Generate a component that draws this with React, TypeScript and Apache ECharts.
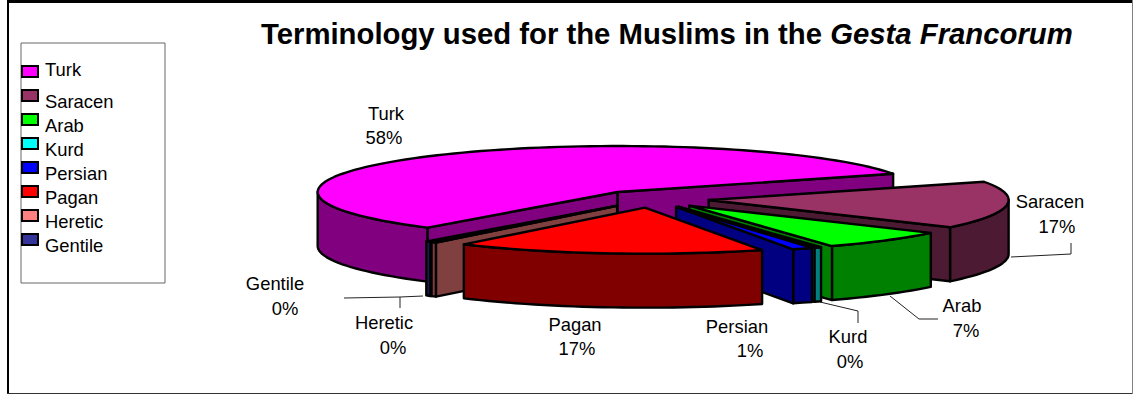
import React, { useEffect, useRef } from "react";
import * as echarts from "echarts";

// Occurrences of each term, as shares of the whole text.
const categories = ["Turk", "Saracen", "Arab", "Kurd", "Persian", "Pagan", "Heretic", "Gentile"];
const shares = [57.6, 16.6, 7.0, 0.4, 1.1, 16.7, 0.3, 0.3];
const topColors = ["#FF00FF", "#993366", "#00FF00", "#00FFFF", "#0000FF", "#FF0000", "#FF8080", "#333399"];
const wallColors = ["#800080", "#4D1A33", "#008000", "#008080", "#000080", "#800000", "#804040", "#1A1A4D"];

// Back-to-front order in which the exploded slices are painted.
const paintOrder = ["Turk", "Saracen", "Arab", "Kurd", "Persian", "Gentile", "Heretic", "Pagan"];

// Projection of the pie: centre, ellipse radii, thickness, explosion factor, first angle.
const PIE = { cx: 652, cy: 199, rx: 300, ry: 46, depth: 54, explode: 0.19, startDeg: 129.3 };

// Where each two-line data label sits: [name x, name y, percent x, percent y].
const labelSpots: Record<string, number[]> = {
  Turk: [386, 113, 384, 137],
  Saracen: [1050, 201, 1057, 226],
  Arab: [962, 305, 966, 330],
  Kurd: [848, 336, 850, 361],
  Persian: [737, 326, 750, 350],
  Pagan: [575, 324, 577, 348],
  Heretic: [384, 322, 393, 347],
  Gentile: [275, 283, 285, 308],
};

const leaderLines = [
  [[1011, 257], [1071, 254], [1071, 243]],
  [[890, 296], [919, 319], [938, 319]],
  [[820, 302], [858, 311], [858, 323]],
  [[344, 298], [400, 297], [423, 296]],
  [[400, 297], [400, 308]],
];

const legendTextY = [69, 101, 125, 149, 173, 197, 221, 245];
const legendSwatchY = [66, 90, 114, 138, 162, 186, 210, 234];

const FONT = '"Liberation Sans", Arial, sans-serif';
const total = shares.reduce((a, b) => a + b, 0);
const percentText = (v: number) => `${Math.round((v / total) * 100)}%`;

const rad = (d: number) => (d * Math.PI) / 180;

// Angular extent of every slice, clockwise on screen from the first angle.
const extents = (() => {
  let a = PIE.startDeg;
  return shares.map((v) => {
    const from = a;
    a += (v / total) * 360;
    return [from, a];
  });
})();

function renderSlice(_params: any, api: any) {
  const idx = api.value(0) as number;
  const paintRank = api.value(1) as number;
  const [from, to] = extents[idx];
  const mid = rad((from + to) / 2);
  const ax = PIE.cx + PIE.explode * PIE.rx * Math.cos(mid);
  const ay = PIE.cy + PIE.explode * PIE.ry * Math.sin(mid);
  const rim = (deg: number, drop = 0) => [
    ax + PIE.rx * Math.cos(rad(deg)),
    ay + PIE.ry * Math.sin(rad(deg)) + drop,
  ];
  const arc = (a: number, b: number, drop = 0) => {
    const n = Math.max(2, Math.ceil(Math.abs(b - a) / 2));
    return Array.from({ length: n + 1 }, (_, i) => rim(a + ((b - a) * i) / n, drop));
  };
  const faceStyle = (fill: string) => ({
    fill,
    stroke: "#000",
    lineWidth: 2.4,
    lineJoin: "round",
  });
  const wall = wallColors[idx];
  const children: any[] = [];
  let part = 0;
  const add = (points: number[][], fill: string) =>
    children.push({
      type: "polygon",
      z2: paintRank * 10 + part++,
      shape: { points },
      style: faceStyle(fill),
    });

  // Outer wall: only the stretches on the near half of the ellipse show.
  for (const k of [0, 1, 2]) {
    const a = Math.max(from, k * 360);
    const b = Math.min(to, k * 360 + 180);
    if (b > a) add([...arc(a, b), ...arc(b, a, PIE.depth)], wall);
  }
  // Cut faces turned towards the viewer.
  const cutFace = (deg: number) => {
    const p = rim(deg);
    add([[ax, ay], p, [p[0], p[1] + PIE.depth], [ax, ay + PIE.depth]], wall);
  };
  if (Math.cos(rad(from)) < 0) cutFace(from);
  if (Math.cos(rad(to)) > 0) cutFace(to);
  // Top face.
  add([[ax, ay], ...arc(from, to)], topColors[idx]);

  return { type: "group", children };
}

export default function App() {
  const ref = useRef<HTMLDivElement>(null);

  useEffect(() => {
    const chart = echarts.init(ref.current!, undefined, { renderer: "svg" });

    const text = (t: string, x: number, y: number, align = "center") => ({
      type: "text",
      x,
      y,
      silent: true,
      style: { text: t, font: `18.4px ${FONT}`, fill: "#000", align, verticalAlign: "middle" },
    });

    const graphic: any[] = [
      // Outer frame: heavy on the left and top, thin on the right and bottom.
      { type: "rect", shape: { x: 7, y: 0, width: 2, height: 394 }, style: { fill: "#000" } },
      { type: "rect", shape: { x: 7, y: 0, width: 1126, height: 3 }, style: { fill: "#000" } },
      { type: "rect", shape: { x: 7, y: 393, width: 1126, height: 1 }, style: { fill: "#333" } },
      { type: "rect", shape: { x: 1132, y: 0, width: 1, height: 394 }, style: { fill: "#808080" } },
      // Legend box.
      {
        type: "rect",
        shape: { x: 21, y: 43, width: 144, height: 240 },
        style: { fill: "#fff", stroke: "#666", lineWidth: 1 },
      },
    ];

    categories.forEach((name, i) => {
      graphic.push({
        type: "rect",
        shape: { x: 22, y: legendSwatchY[i], width: 16, height: 11 },
        style: { fill: topColors[i], stroke: "#000", lineWidth: 2 },
      });
      graphic.push(text(name, 45, legendTextY[i], "left"));
      const s = labelSpots[name];
      graphic.push(text(name, s[0], s[1]));
      graphic.push(text(percentText(shares[i]), s[2], s[3]));
    });

    leaderLines.forEach((points) =>
      graphic.push({
        type: "polyline",
        shape: { points },
        style: { stroke: "#222", lineWidth: 1, fill: "none" },
      })
    );

    chart.setOption({
      animation: false,
      backgroundColor: "#fff",
      title: {
        left: 256,
        top: 14,
        text: "{a|Terminology used for the Muslims in the }{b|Gesta Francorum}",
        textStyle: {
          rich: {
            a: { fontFamily: FONT, fontSize: 29.3, fontWeight: "bold", color: "#000" },
            b: { fontFamily: FONT, fontSize: 29.3, fontWeight: "bold", fontStyle: "italic", color: "#000" },
          },
        },
      },
      graphic,
      series: [
        {
          type: "custom",
          coordinateSystem: "none",
          silent: true,
          renderItem: renderSlice,
          data: paintOrder.map((name, rank) => {
            const i = categories.indexOf(name);
            return { name, value: [i, rank, shares[i]] };
          }),
        },
      ],
    });

    return () => chart.dispose();
  }, []);

  return (
    <div
      ref={ref}
      style={{ position: "absolute", left: 0, top: 0, width: 1133, height: 394 }}
    />
  );
}
